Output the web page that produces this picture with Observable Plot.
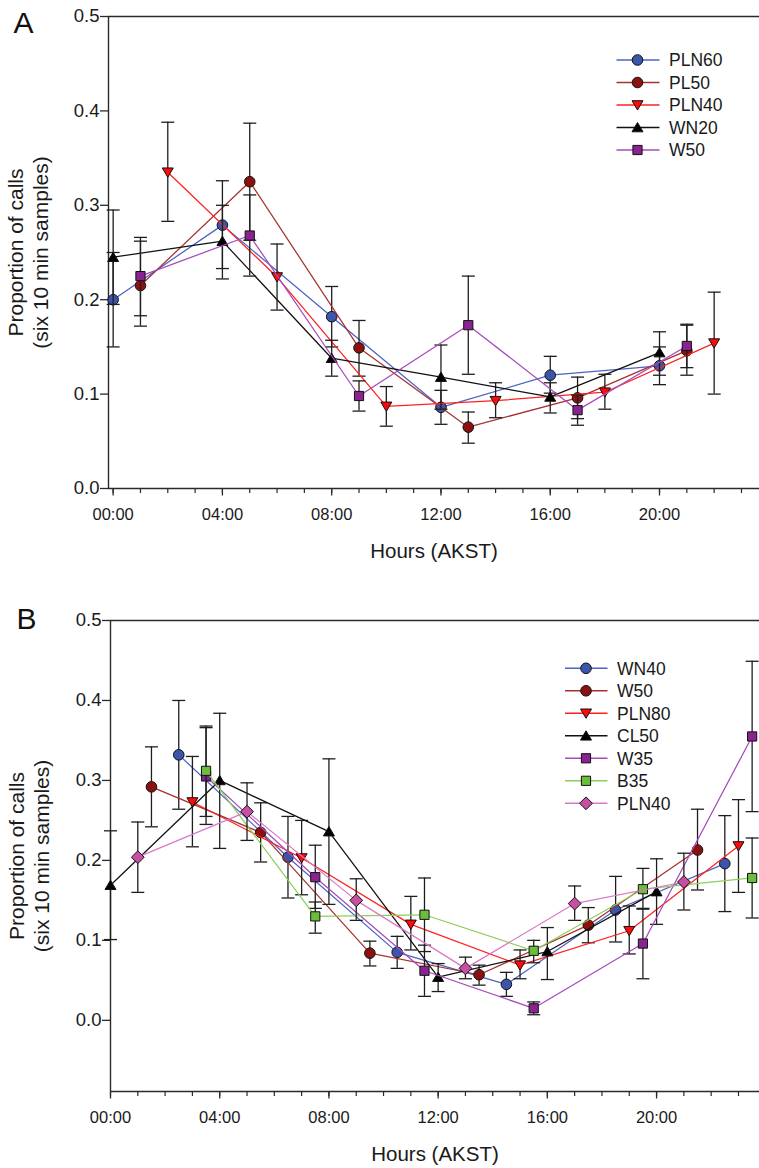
<!DOCTYPE html>
<html><head><meta charset="utf-8">
<script src="https://cdn.jsdelivr.net/npm/d3@7"></script>
<script src="https://cdn.jsdelivr.net/npm/@observablehq/plot@0.6"></script>
<style>
body{margin:0;background:#fff;font-family:"Liberation Sans",Arial,sans-serif;}
#wrap{width:759px;height:1168px;position:relative;overflow:hidden;background:#fff}
.panel{position:relative;width:759px;}
.panel svg{display:block}
.legend{position:absolute;left:0;top:0;pointer-events:none}
</style></head><body><div id="wrap"><div id="pa" class="panel"></div><div id="pb" class="panel"></div></div>
<script>
// ---------- tick labels ----------
const yTicks = [0, 0.1, 0.2, 0.3, 0.4, 0.5];
const majorHours = [0, 4, 8, 12, 16, 20];
const xTickLabels = ["00:00", "04:00", "08:00", "12:00", "16:00", "20:00"];
const minorHours = [0,1,2,3,4,5,6,7,8,9,10,11,12,13,14,15,16,17,18,19,20,21,22,23];
const xLabel = "Hours (AKST)";
const yLabel1 = "Proportion of calls";
const yLabel2 = "(six 10 min samples)";

// ---------- Panel A data ----------
const A_names = ["PLN60", "PL50", "PLN40", "WN20", "W50"];
const A_PLN60_h  = [0, 4, 8, 12, 16, 20];
const A_PLN60_v  = [0.200, 0.279, 0.182, 0.086, 0.120, 0.130];
const A_PLN60_lo = [0.150, 0.233, 0.150, 0.068, 0.101, 0.110];
const A_PLN60_hi = [0.250, 0.326, 0.214, 0.104, 0.140, 0.150];
const A_PL50_h  = [1, 5, 9, 13, 17, 21];
const A_PL50_v  = [0.215, 0.325, 0.149, 0.065, 0.096, 0.146];
const A_PL50_lo = [0.172, 0.263, 0.119, 0.048, 0.074, 0.120];
const A_PL50_hi = [0.262, 0.387, 0.178, 0.081, 0.118, 0.173];
const A_PLN40_h  = [2, 6, 10, 14, 18, 22];
const A_PLN40_v  = [0.335, 0.224, 0.087, 0.093, 0.102, 0.154];
const A_PLN40_lo = [0.283, 0.189, 0.066, 0.075, 0.084, 0.100];
const A_PLN40_hi = [0.388, 0.259, 0.108, 0.112, 0.121, 0.208];
const A_WN20_h  = [0, 4, 8, 12, 16, 20];
const A_WN20_v  = [0.245, 0.262, 0.138, 0.118, 0.097, 0.144];
const A_WN20_lo = [0.195, 0.222, 0.119, 0.084, 0.080, 0.120];
const A_WN20_hi = [0.295, 0.300, 0.157, 0.152, 0.112, 0.166];
const A_W50_h  = [1, 5, 9, 13, 17, 21];
const A_W50_v  = [0.225, 0.268, 0.098, 0.173, 0.083, 0.151];
const A_W50_lo = [0.183, 0.225, 0.082, 0.121, 0.067, 0.128];
const A_W50_hi = [0.266, 0.311, 0.114, 0.225, 0.099, 0.174];

// ---------- Panel B data ----------
const B_names = ["WN40", "W50", "PLN80", "CL50", "W35", "B35", "PLN40"];
const B_WN40_h  = [2.5, 6.5, 10.5, 14.5, 18.5, 22.5];
const B_WN40_v  = [0.332, 0.204, 0.085, 0.045, 0.138, 0.196];
const B_WN40_lo = [0.264, 0.153, 0.065, 0.030, 0.098, 0.136];
const B_WN40_hi = [0.400, 0.255, 0.105, 0.060, 0.180, 0.256];
const B_W50_h  = [1.5, 5.5, 9.5, 13.5, 17.5, 21.5];
const B_W50_v  = [0.292, 0.235, 0.084, 0.057, 0.119, 0.213];
const B_W50_lo = [0.242, 0.198, 0.068, 0.044, 0.097, 0.163];
const B_W50_hi = [0.342, 0.272, 0.099, 0.069, 0.141, 0.264];
const B_PLN80_h  = [3, 7, 11, 15, 19, 23];
const B_PLN80_v  = [0.273, 0.203, 0.120, 0.069, 0.112, 0.218];
const B_PLN80_lo = [0.217, 0.157, 0.088, 0.052, 0.083, 0.160];
const B_PLN80_hi = [0.330, 0.250, 0.155, 0.088, 0.143, 0.276];
const B_CL50_h  = [0, 4, 8, 12, 16, 20];
const B_CL50_v  = [0.169, 0.300, 0.236, 0.054, 0.086, 0.161];
const B_CL50_lo = [0.101, 0.215, 0.145, 0.036, 0.051, 0.120];
const B_CL50_hi = [0.237, 0.384, 0.327, 0.071, 0.116, 0.202];
const B_W35_h  = [3.5, 7.5, 11.5, 15.5, 19.5, 23.5];
const B_W35_v  = [0.305, 0.179, 0.062, 0.015, 0.096, 0.355];
const B_W35_lo = [0.245, 0.140, 0.030, 0.007, 0.052, 0.261];
const B_W35_hi = [0.366, 0.219, 0.094, 0.023, 0.139, 0.449];
const B_B35_h  = [3.5, 7.5, 11.5, 15.5, 19.5, 23.5];
const B_B35_v  = [0.312, 0.130, 0.132, 0.087, 0.164, 0.178];
const B_B35_lo = [0.255, 0.109, 0.086, 0.072, 0.140, 0.128];
const B_B35_hi = [0.368, 0.148, 0.178, 0.100, 0.190, 0.228];
const B_PLN40_h  = [1, 5, 9, 13, 17, 21];
const B_PLN40_v  = [0.204, 0.261, 0.150, 0.065, 0.146, 0.173];
const B_PLN40_lo = [0.160, 0.225, 0.125, 0.052, 0.125, 0.138];
const B_PLN40_hi = [0.248, 0.297, 0.177, 0.079, 0.168, 0.209];

// ---------- symbols ----------
const symCircle  = {draw(c){ c.moveTo(5.3,0); c.arc(0,0,5.3,0,2*Math.PI); c.closePath(); }};
const symSquare  = {draw(c){ c.moveTo(-4.6,-4.6); c.lineTo(4.6,-4.6); c.lineTo(4.6,4.6); c.lineTo(-4.6,4.6); c.closePath(); }};
const symTriUp   = {draw(c){ c.moveTo(0,-5); c.lineTo(5.5,4.3); c.lineTo(-5.5,4.3); c.closePath(); }};
const symTriDown = {draw(c){ c.moveTo(0,5); c.lineTo(5.5,-4.3); c.lineTo(-5.5,-4.3); c.closePath(); }};
const symDiamond = {draw(c){ c.moveTo(0,-6.4); c.lineTo(6.4,0); c.lineTo(0,6.4); c.lineTo(-6.4,0); c.closePath(); }};
const symCap     = {draw(c){ c.moveTo(-6.5,0); c.lineTo(6.5,0); }};

const rows = (h, v, lo, hi) => h.map((x, i) => ({x, v: v[i], lo: lo[i], hi: hi[i]}));

const BLUE = {fill: "#3b55ad", line: "#4b63c4"};
const DRED = {fill: "#8c1010", line: "#a73030"};
const RED  = {fill: "#ff0a0a", line: "#ff2020"};
const BLK  = {fill: "#000000", line: "#111111"};
const PURP = {fill: "#8a2391", line: "#a64bba"};
const GRN  = {fill: "#6cbd3a", line: "#8ccf5c"};
const PINK = {fill: "#c74fa2", line: "#d97ac7"};

const seriesA = [
  {name: A_names[0], data: rows(A_PLN60_h, A_PLN60_v, A_PLN60_lo, A_PLN60_hi), ...BLUE, sym: symCircle},
  {name: A_names[1], data: rows(A_PL50_h, A_PL50_v, A_PL50_lo, A_PL50_hi), ...DRED, sym: symCircle},
  {name: A_names[2], data: rows(A_PLN40_h, A_PLN40_v, A_PLN40_lo, A_PLN40_hi), ...RED, sym: symTriDown},
  {name: A_names[3], data: rows(A_WN20_h, A_WN20_v, A_WN20_lo, A_WN20_hi), ...BLK, sym: symTriUp},
  {name: A_names[4], data: rows(A_W50_h, A_W50_v, A_W50_lo, A_W50_hi), ...PURP, sym: symSquare}
];
const seriesB = [
  {name: B_names[0], data: rows(B_WN40_h, B_WN40_v, B_WN40_lo, B_WN40_hi), ...BLUE, sym: symCircle},
  {name: B_names[1], data: rows(B_W50_h, B_W50_v, B_W50_lo, B_W50_hi), ...DRED, sym: symCircle},
  {name: B_names[2], data: rows(B_PLN80_h, B_PLN80_v, B_PLN80_lo, B_PLN80_hi), ...RED, sym: symTriDown},
  {name: B_names[3], data: rows(B_CL50_h, B_CL50_v, B_CL50_lo, B_CL50_hi), ...BLK, sym: symTriUp},
  {name: B_names[4], data: rows(B_W35_h, B_W35_v, B_W35_lo, B_W35_hi), ...PURP, sym: symSquare},
  {name: B_names[5], data: rows(B_B35_h, B_B35_v, B_B35_lo, B_B35_hi), ...GRN, sym: symSquare},
  {name: B_names[6], data: rows(B_PLN40_h, B_PLN40_v, B_PLN40_lo, B_PLN40_hi), ...PINK, sym: symDiamond}
];

const FONT = "Liberation Sans, Arial, Helvetica, sans-serif";
const AX = "#2a2a2a";

function seriesMarks(series) {
  const m = [];
  for (const s of series) {
    m.push(Plot.line(s.data, {x: "x", y: "v", stroke: s.line, strokeWidth: 1.25}));
    m.push(Plot.ruleX(s.data, {x: "x", y1: "lo", y2: "hi", stroke: "#1e1e1e", strokeWidth: 1.3}));
    m.push(Plot.dot(s.data, {x: "x", y: "lo", symbol: symCap, stroke: "#1e1e1e", strokeWidth: 1.3, fill: "none"}));
    m.push(Plot.dot(s.data, {x: "x", y: "hi", symbol: symCap, stroke: "#1e1e1e", strokeWidth: 1.3, fill: "none"}));
    m.push(Plot.dot(s.data, {x: "x", y: "v", symbol: s.sym, fill: s.fill, stroke: "#111", strokeWidth: 1}));
  }
  return m;
}

function panel(opts) {
  const {series, xDomain, yDomain, marginLeft, marginTop, marginBottom, height, letter, letterDx, letterDy, yl1Dx, yl2Dx} = opts;
  return Plot.plot({
    width: 759, height, marginLeft, marginTop, marginBottom, marginRight: 0,
    x: {domain: xDomain},
    y: {domain: yDomain},
    style: {fontFamily: FONT, color: "#1a1a1a", background: "white", overflow: "visible"},
    marks: [
      Plot.ruleY([yDomain[1]], {stroke: AX, strokeWidth: 1.4}),
      Plot.ruleY([yDomain[0]], {stroke: AX, strokeWidth: 1.4}),
      Plot.ruleX([xDomain[0]], {stroke: AX, strokeWidth: 1.4}),
      Plot.axisY({ticks: yTicks, tickFormat: d => d.toFixed(1), tickSize: 8, tickPadding: 1, label: null, fontSize: 18.5, strokeWidth: 1.3, stroke: AX}),
      Plot.axisX({ticks: minorHours, tickFormat: () => "", tickSize: 5, label: null, strokeWidth: 1.2, stroke: AX}),
      Plot.axisX({ticks: majorHours, tickFormat: d => xTickLabels[majorHours.indexOf(d)], tickSize: 7.5, tickPadding: 12, label: null, fontSize: 16.5, strokeWidth: 1.3, stroke: AX}),
      ...seriesMarks(series),
      Plot.text([xLabel], {frameAnchor: "bottom", dy: 69, textAnchor: "middle", lineAnchor: "bottom", fontSize: 20.5, fill: "#1a1a1a"}),
      Plot.text([yLabel1], {frameAnchor: "left", dx: yl1Dx, rotate: -90, textAnchor: "middle", lineAnchor: "bottom", fontSize: 21, fill: "#1a1a1a"}),
      Plot.text([yLabel2], {frameAnchor: "left", dx: yl2Dx, rotate: -90, textAnchor: "middle", lineAnchor: "bottom", fontSize: 21, fill: "#1a1a1a"}),
      Plot.text([letter], {frameAnchor: "top-left", dx: letterDx, dy: letterDy, textAnchor: "start", lineAnchor: "bottom", fontSize: 30, fill: "#111"})
    ]
  });
}

function legend(container, series, lx0, lx1, mx, tx, y0, dy) {
  const svg = d3.select(container).append("svg").attr("class", "legend")
    .attr("width", 759).attr("height", 400);
  series.forEach((s, i) => {
    const y = y0 + i * dy;
    svg.append("line").attr("x1", lx0).attr("x2", lx1).attr("y1", y).attr("y2", y)
      .attr("stroke", s.line).attr("stroke-width", 1.4);
    const p = d3.path(); s.sym.draw(p);
    svg.append("path").attr("d", p.toString()).attr("transform", `translate(${mx},${y})`)
      .attr("fill", s.fill).attr("stroke", "#111").attr("stroke-width", 1);
    svg.append("text").attr("x", tx).attr("y", y).attr("dy", "0.36em")
      .attr("font-family", FONT).attr("font-size", 17.5).attr("fill", "#1a1a1a").text(s.name);
  });
}

const pa = document.getElementById("pa");
pa.append(panel({series: seriesA, xDomain: [-0.17, 23.66], yDomain: [0, 0.5],
  marginLeft: 108, marginTop: 16, marginBottom: 92, height: 580,
  letter: "A", letterDx: -95, letterDy: 16, yl1Dx: -86, yl2Dx: -61}));
legend(pa, seriesA, 616.5, 659.5, 637.5, 669, 60, 22.5);

const pb = document.getElementById("pb");
pb.append(panel({series: seriesB, xDomain: [0, 23.77], yDomain: [-0.089, 0.5],
  marginLeft: 110, marginTop: 40, marginBottom: 77, height: 588,
  letter: "B", letterDx: -94, letterDy: 8.5, yl1Dx: -86.5, yl2Dx: -61.5}));
legend(pb, seriesB, 565, 607.5, 586, 617, 88.3, 22.5);
</script></body></html>
